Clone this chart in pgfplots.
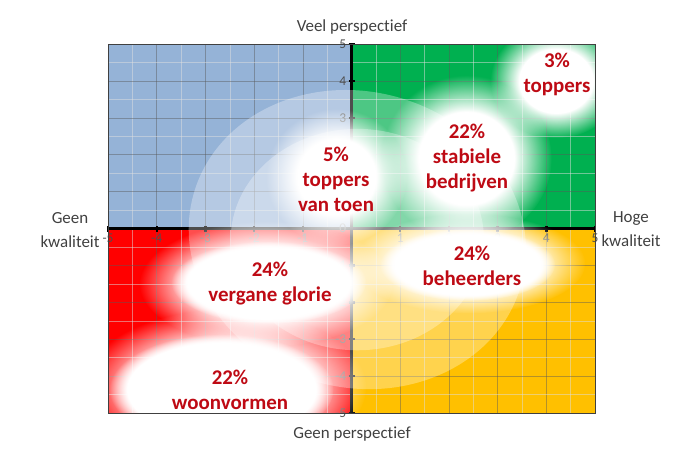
\documentclass[border=0pt]{standalone}
\usepackage{pgfplots}
\pgfplotsset{compat=1.18}
\usepackage{fontspec}
\setmainfont{Carlito}[Ligatures=NoCommon]
\usetikzlibrary{fadings,shapes.geometric}
\definecolor{qblue}{RGB}{149,179,215}
\definecolor{qgreen}{RGB}{0,176,80}
\definecolor{qred}{RGB}{255,0,0}
\definecolor{qyellow}{RGB}{255,192,0}
\definecolor{txtred}{RGB}{190,10,20}
\definecolor{ticktxt}{RGB}{80,80,80}
\definecolor{desctxt}{RGB}{64,64,64}
\pgfdeclareradialshading{haloshade}{\pgfpointorigin}{color(0bp)=(pgftransparent!0); color(14bp)=(pgftransparent!0); color(25bp)=(pgftransparent!100); color(50bp)=(pgftransparent!100)}
\pgfdeclarefading{halo}{\pgfuseshading{haloshade}}
\pgfdeclareradialshading{coreshade}{\pgfpointorigin}{color(0bp)=(pgftransparent!0); color(21bp)=(pgftransparent!0); color(25bp)=(pgftransparent!100); color(50bp)=(pgftransparent!100)}
\pgfdeclarefading{core}{\pgfuseshading{coreshade}}
\begin{document}
\begin{tikzpicture}
\begin{axis}[
  set layers,
  at={(0,0)}, anchor=south west,
  scale only axis, width=487bp, height=369bp,
  xmin=-5, xmax=5, ymin=-5, ymax=5,
  axis lines=middle,
  axis line style={-, line width=2.2bp, black},
  xtick={-5,...,5}, ytick={-5,...,5},
  minor tick num=1,
  grid=both,
  major grid style={draw=gray!70!black, opacity=0.45, line width=0.6bp},
  minor grid style={draw=white!75!gray, opacity=0.5, line width=0.5bp},
  major tick length=6bp, minor tick length=0pt,
  tick style={black, line width=2.4bp},
  tick align=center,
  hide obscured x ticks=true,
  hide obscured y ticks=false,
  /pgf/number format/assume math mode=true,
  tick label style={font=\fontsize{13.5}{15}\selectfont, text=ticktxt},
  xticklabel style={inner sep=2bp},
  yticklabel style={inner sep=2bp},
]
% quadrants
\addplot[fill=qblue, draw=none, on layer=axis background] coordinates {(-5,0) (0,0) (0,5) (-5,5)} -- cycle;
\addplot[fill=qgreen, draw=none, on layer=axis background] coordinates {(0,0) (5,0) (5,5) (0,5)} -- cycle;
\addplot[fill=qred, draw=none, on layer=axis background] coordinates {(-5,-5) (0,-5) (0,0) (-5,0)} -- cycle;
\addplot[fill=qyellow, draw=none, on layer=axis background] coordinates {(0,-5) (5,-5) (5,0) (0,0)} -- cycle;
\end{axis}
% overlays in data units of the axis (1 unit = 48.7bp in x, 36.9bp in y)
\begin{scope}
\clip (0,0) rectangle (487bp,369bp);
\begin{scope}[x=48.7bp, y=36.9bp, shift={(243.5bp,184.5bp)}]
\fill[white, opacity=0.3, rotate around={-15:(0.12,-0.3)}] (0.12,-0.3) ellipse [x radius=3.49, y radius=4.01];
\fill[white, opacity=0.3] (0.12,-0.3) ellipse [x radius=2.6, y radius=3.0];
\fill[white, path fading=halo] (4.2,4.0) ellipse [x radius=1.35, y radius=1.55];
\fill[white, path fading=halo] (2.36,1.9) ellipse [x radius=1.75, y radius=2.25];
\fill[white, path fading=halo] (-0.31,1.4) ellipse [x radius=1.45, y radius=1.85];
\fill[white, path fading=halo] (-1.75,-1.5) ellipse [x radius=2.6, y radius=1.7];
\fill[white, path fading=core] (-1.7,-1.46) ellipse [x radius=2.0, y radius=1.12];
\fill[white, path fading=halo] (-2.6,-4.3) ellipse [x radius=2.9, y radius=2.1];
\fill[white, path fading=core] (-2.67,-4.36) ellipse [x radius=2.3, y radius=1.5];
\fill[white, path fading=halo] (2.4,-0.95) ellipse [x radius=2.4, y radius=1.35];
\fill[white, path fading=core] (2.38,-0.98) ellipse [x radius=1.8, y radius=0.98];
\end{scope}
\end{scope}
\draw[black!75, line width=0.8bp] (0,0) rectangle (487bp,369bp);
% blob texts
\begin{scope}[every node/.style={align=center, text=txtred, font=\fontsize{21}{25}\selectfont\bfseries}]
\node at (449bp,338.5bp) {3\%\\toppers};
\node at (359bp,255bp) {22\%\\stabiele\\bedrijven};
\node at (228bp,234bp) {5\%\\toppers\\van toen};
\node at (162bp,129bp) {24\%\\vergane glorie};
\node at (122bp,23bp) {22\%\\woonvormen};
\node at (364bp,147.5bp) {24\%\\beheerders};
\end{scope}
\begin{scope}[every node/.style={align=center, text=desctxt, font=\fontsize{17}{24}\selectfont}]
\node at (244bp,386bp) {Veel perspectief};
\node at (244bp,-21bp) {Geen perspectief};
\node at (-38bp,182.5bp) {Geen\\kwaliteit};
\node at (523bp,183.5bp) {Hoge\\kwaliteit};
\end{scope}
\path (-108bp,-39bp) rectangle (576bp,413bp);
\end{tikzpicture}
\end{document}
